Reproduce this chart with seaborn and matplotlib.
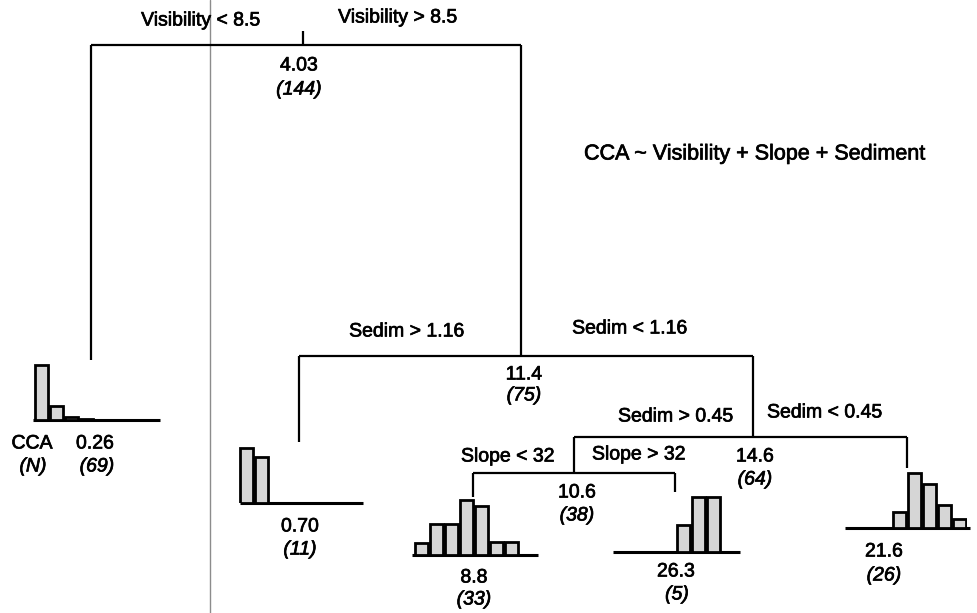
import numpy as np
import pandas as pd
import matplotlib
matplotlib.use("Agg")
import matplotlib.pyplot as plt
import matplotlib.patheffects as pe
import seaborn as sns

# ---------------- data ----------------
formula = "CCA ~ Visibility + Slope + Sediment"
split_labels = ["Visibility < 8.5", "Visibility > 8.5",
                "Sedim > 1.16", "Sedim < 1.16",
                "Sedim > 0.45", "Sedim < 0.45",
                "Slope < 32", "Slope > 32"]
node_means = ["4.03", "11.4", "14.6", "10.6"]
node_counts = [144, 75, 64, 38]
leaf_means = ["0.26", "0.70", "8.8", "26.3", "21.6"]
leaf_counts = [69, 11, 33, 5, 26]
# histogram of CCA classes within each terminal node (relative to the tallest class)
leaf0_bins = [0, 1, 2, 3]
leaf0_freq = [1.00, 0.25, 0.06, 0.02]
leaf1_bins = [0, 1]
leaf1_freq = [1.00, 0.84]
leaf2_bins = [0, 1, 2, 3, 4, 5, 6]
leaf2_freq = [0.22, 0.56, 0.56, 1.00, 0.89, 0.24, 0.24]
leaf3_bins = [4, 5, 6]
leaf3_freq = [0.50, 1.00, 1.00]
leaf4_bins = [3, 4, 5, 6, 7]
leaf4_freq = [0.30, 1.00, 0.80, 0.41, 0.16]
n_classes = 8

# ---------------- figure ----------------
sns.set_theme(style="white")
plt.rcParams['font.family'] = ['Liberation Sans', 'DejaVu Sans']

W, H = 977, 613
fig = plt.figure(figsize=(W / 100, H / 100), dpi=100)
ax = fig.add_axes([0, 0, 1, 1])
ax.set_xlim(0, W)
ax.set_ylim(H, 0)
ax.axis('off')

LW = 1.6
FS = 14
stroke = [pe.withStroke(linewidth=0.5, foreground='black')]

def seg(xs, ys, **kw):
    ax.plot(xs, ys, color='black', lw=kw.pop('lw', LW), solid_capstyle='butt', **kw)

def txt(x, y, s, italic=False, ha='center', fs=FS):
    ax.text(x, y, s, fontsize=fs, ha=ha, va='center',
            style='italic' if italic else 'normal', color='black',
            path_effects=stroke)

# scan fold line
ax.plot([210, 210], [0, H], color='#8c8c8c', lw=1.0)

# root split
seg([303, 303], [31, 45])
seg([91, 521], [45, 45])
seg([91, 91], [45, 360])
seg([521, 521], [45, 356])
txt(201, 21, split_labels[0])
txt(398, 18, split_labels[1])
txt(299, 66, node_means[0])
txt(299, 90, f"({node_counts[0]})", italic=True)

txt(584, 154, formula, ha='left', fs=15.5)

# Sedim 1.16 split
seg([299, 753], [356, 356])
seg([299, 299], [356, 442])
seg([753, 753], [356, 437])
txt(407, 332, split_labels[2])
txt(630, 329, split_labels[3])
txt(524, 375, node_means[1])
txt(524, 396, f"({node_counts[1]})", italic=True)

# Sedim 0.45 split
seg([574, 907], [437, 437])
seg([574, 574], [437, 473])
seg([907, 907], [437, 468])
txt(676, 417, split_labels[4])
txt(825, 413, split_labels[5])
txt(755, 457, node_means[2])
txt(755, 480, f"({node_counts[2]})", italic=True)

# Slope split
seg([473, 675], [473, 473])
seg([473, 473], [473, 497])
seg([675, 675], [473, 492])
txt(508, 457, split_labels[6])
txt(639, 455, split_labels[7])
txt(577, 493, node_means[3])
txt(577, 516, f"({node_counts[3]})", italic=True)

# ---------------- leaf histograms ----------------
SLOT = 15.0      # px per class
BAR_H = 55.0     # px for relative frequency 1.0
leaves = [
    # bins, freq, bin0 left px, baseline y px, baseline x-extent
    (leaf0_bins, leaf0_freq, 35, 420, (33, 160)),
    (leaf1_bins, leaf1_freq, 240, 503, (240, 363)),
    (leaf2_bins, leaf2_freq, 415, 555, (412, 538)),
    (leaf3_bins, leaf3_freq, 617, 552, (613, 740)),
    (leaf4_bins, leaf4_freq, 848, 528, (845, 970)),
]
for bins, freq, x0, yb, (bx0, bx1) in leaves:
    left = (x0 - 1) / W
    width = n_classes * SLOT / W
    bottom = 1 - yb / H
    height = 62 / H
    iax = fig.add_axes([left, bottom, width, height])
    df = pd.DataFrame({"cls": bins, "freq": freq})
    sns.barplot(data=df, x="cls", y="freq", order=list(range(n_classes)),
                color="#d6d6d6", saturation=1, width=0.84,
                edgecolor="black", linewidth=2.0, ax=iax)
    iax.set_xlim(-0.5, n_classes - 0.5)
    iax.set_ylim(0, 62 / BAR_H)
    iax.set_facecolor('none')
    iax.axis('off')
    seg([bx0, bx1], [yb, yb], lw=2.2)

# leaf labels
txt(32, 444, "CCA")
txt(95, 444, leaf_means[0])
txt(33, 467, "(N)", italic=True)
txt(97, 467, f"({leaf_counts[0]})", italic=True)
txt(300, 527, leaf_means[1])
txt(300, 550, f"({leaf_counts[1]})", italic=True)
txt(474, 578, leaf_means[2])
txt(474, 600, f"({leaf_counts[2]})", italic=True)
txt(676, 572, leaf_means[3])
txt(677, 595, f"({leaf_counts[3]})", italic=True)
txt(884, 552, leaf_means[4])
txt(884, 576, f"({leaf_counts[4]})", italic=True)

fig.savefig("out.png", dpi=100, facecolor='white')
